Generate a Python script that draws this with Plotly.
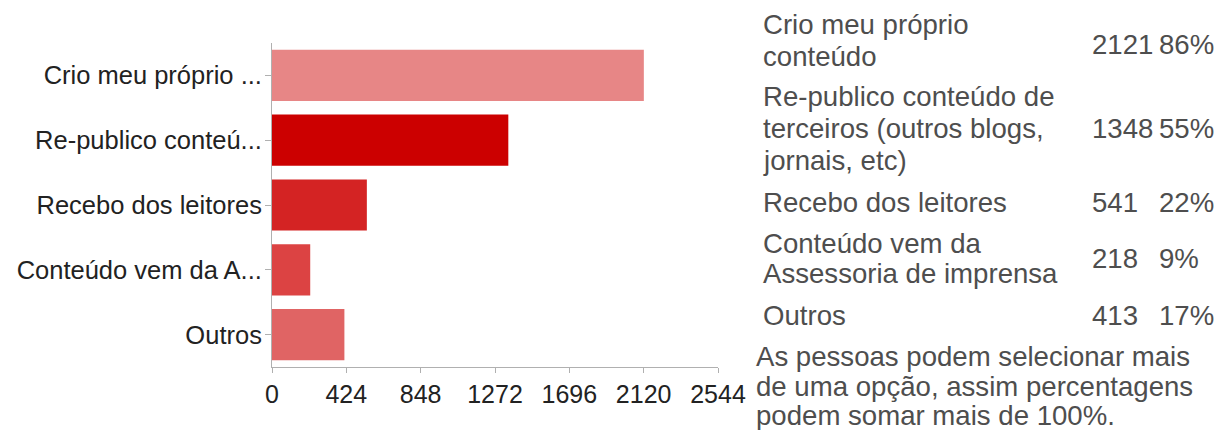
import plotly.graph_objects as go

# Survey answers: where the blog content comes from
categories = [
    "Crio meu próprio ...",
    "Re-publico conteú...",
    "Recebo dos leitores",
    "Conteúdo vem da A...",
    "Outros",
]
full_labels = [
    ["Crio meu próprio", "conteúdo"],
    ["Re-publico conteúdo de", "terceiros (outros blogs,", "jornais, etc)"],
    ["Recebo dos leitores"],
    ["Conteúdo vem da", "Assessoria de imprensa"],
    ["Outros"],
]
counts = [2121, 1348, 541, 218, 413]
percents = ["86%", "55%", "22%", "9%", "17%"]
tick_values = [0, 424, 848, 1272, 1696, 2120, 2544]
note_lines = [
    "As pessoas podem selecionar mais",
    "de uma opção, assim percentagens",
    "podem somar mais de 100%.",
]

bar_colors = ["#E78686", "#CC0000", "#D42323", "#DC4343", "#E06464"]

W, H = 1218, 430
L, R, T, B = 272, 718, 43, 367  # plot area in pixels


def px_x(x):
    return (x - L) / (R - L)


def px_y(y):
    return (B - y) / (B - T)


fig = go.Figure(
    go.Bar(
        x=counts,
        y=categories,
        orientation="h",
        marker=dict(color=bar_colors, line=dict(width=0)),
        hoverinfo="x+y",
    )
)

font_family = "Liberation Sans, Arial, sans-serif"

fig.update_layout(
    width=W,
    height=H,
    margin=dict(l=L, r=W - R, t=T, b=H - B),
    paper_bgcolor="white",
    plot_bgcolor="white",
    bargap=0.21,
    showlegend=False,
    font=dict(family=font_family, color="#222222", size=25),
    xaxis=dict(
        range=[0, 2544],
        tickvals=tick_values,
        ticktext=[str(v) for v in tick_values],
        showgrid=False,
        zeroline=False,
        showline=True,
        linecolor="#B0B0B0",
        linewidth=1,
        ticks="outside",
        ticklen=5,
        tickcolor="#B0B0B0",
        tickfont=dict(size=25, color="#222222"),
        fixedrange=True,
    ),
    yaxis=dict(
        autorange="reversed",
        showgrid=False,
        zeroline=False,
        showline=True,
        linecolor="#B0B0B0",
        linewidth=1,
        ticks="outside",
        ticklen=6,
        tickcolor="#B0B0B0",
        ticklabelstandoff=-2,
        tickfont=dict(size=25.5, color="#222222"),
        fixedrange=True,
    ),
)

annotations = []
text_color = "#4E4E4E"
right_size = 27.6
pad = 3  # annotation text box inset

# Row layout of the summary table: label line centers and the row's value center
label_line_y = [[25, 57], [97, 128, 160], [202], [243, 273], [315]]
value_y = [44, 128, 202, 258, 315]


def add_text(x, y, text):
    annotations.append(dict(
        x=px_x(x - pad), y=px_y(y), xref="paper", yref="paper",
        text=text, showarrow=False, xanchor="left", yanchor="middle",
        font=dict(size=right_size, color=text_color, family=font_family),
    ))


for lines, ys in zip(full_labels, label_line_y):
    for line, y in zip(lines, ys):
        add_text(764, y, line)

for c, p, y in zip(counts, percents, value_y):
    add_text(1093, y, str(c))
    add_text(1160, y, p)

for line, y in zip(note_lines, [356, 386, 415]):
    add_text(757, y, line)

fig.update_layout(annotations=annotations)

fig.write_html("out.html", config={"displayModeBar": False})
